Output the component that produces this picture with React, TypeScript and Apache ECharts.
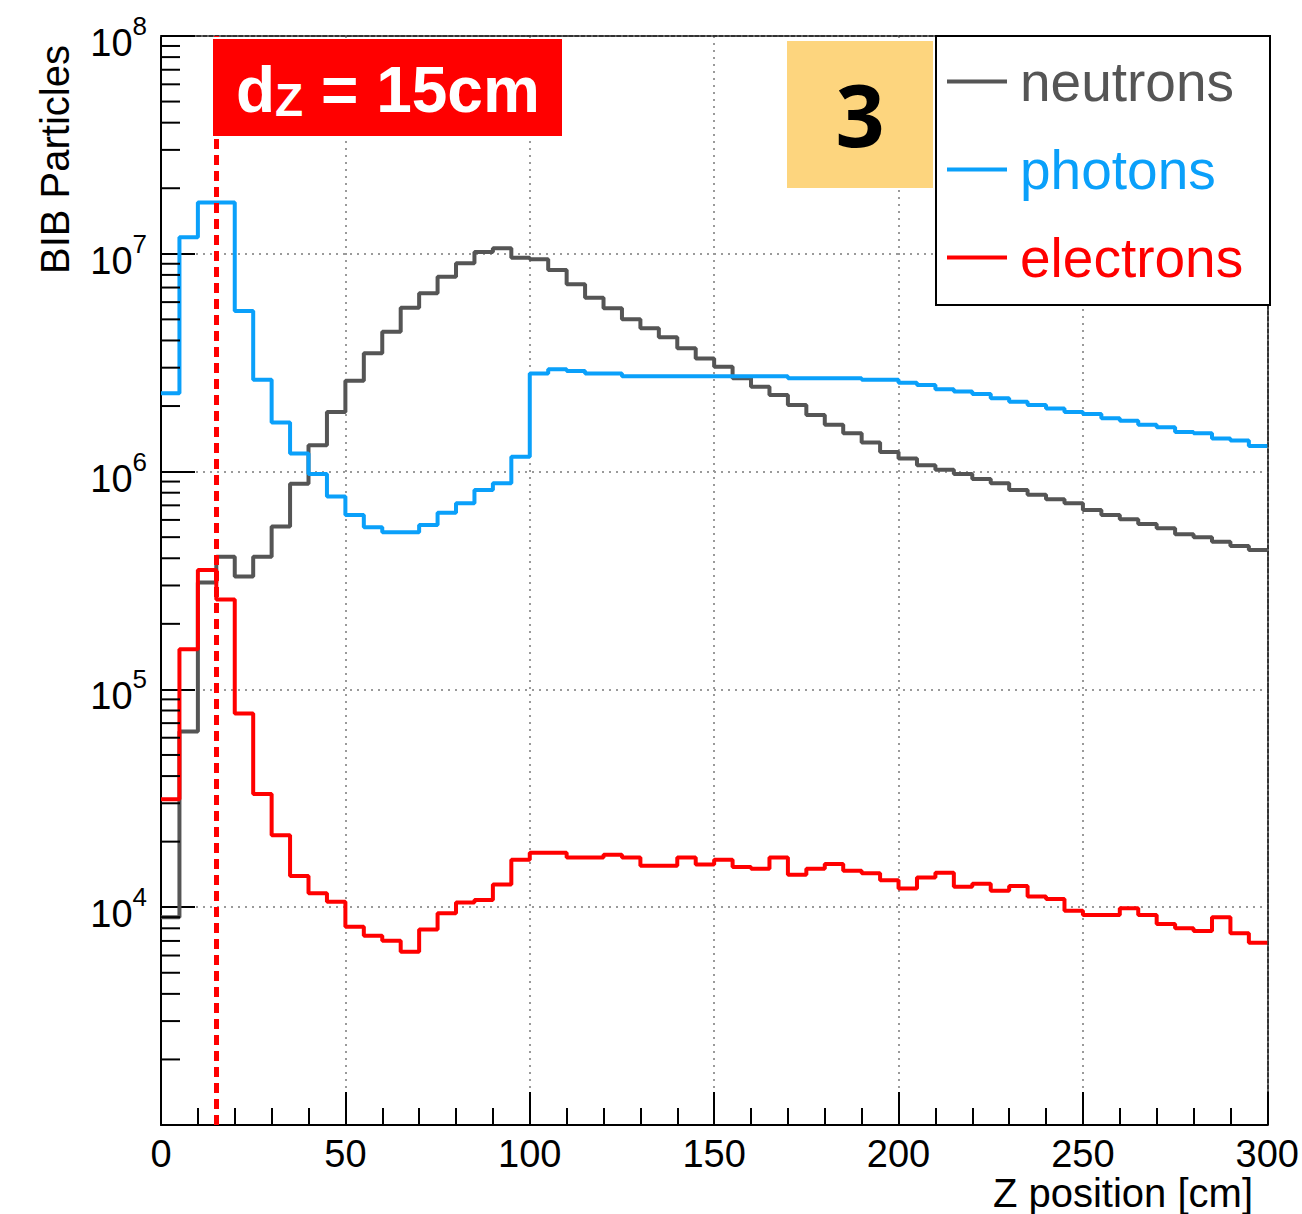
import React, { useEffect, useRef } from "react";
import * as echarts from "echarts";

// ---- data (bins of 5 cm from 0 to 300 cm) ----
const BIN_WIDTH = 5;
const X_MIN = 0;
const X_MAX = 300;

const neutrons = [
  9.0e3, 6.4e4, 3.1e5, 4.06e5, 3.3e5, 4.06e5, 5.6e5, 8.8e5, 1.32e6, 1.88e6,
  2.61e6, 3.49e6, 4.39e6, 5.66e6, 6.59e6, 7.85e6, 9.04e6, 1.02e7, 1.06e7, 9.6e6,
  9.44e6, 8.43e6, 7.25e6, 6.29e6, 5.62e6, 5.0e6, 4.55e6, 4.14e6, 3.68e6, 3.31e6,
  3.03e6, 2.68e6, 2.45e6, 2.25e6, 2.02e6, 1.82e6, 1.64e6, 1.5e6, 1.36e6, 1.23e6,
  1.15e6, 1.07e6, 1.02e6, 9.75e5, 9.25e5, 8.83e5, 8.24e5, 7.82e5, 7.47e5, 7.15e5,
  6.66e5, 6.32e5, 6.04e5, 5.74e5, 5.49e5, 5.16e5, 4.99e5, 4.76e5, 4.55e5, 4.37e5,
];

const photons = [
  2.29e6, 1.19e7, 1.72e7, 1.72e7, 5.46e6, 2.64e6, 1.68e6, 1.21e6, 9.75e5, 7.68e5,
  6.32e5, 5.55e5, 5.26e5, 5.26e5, 5.69e5, 6.47e5, 7.15e5, 8.24e5, 8.83e5, 1.17e6,
  2.82e6, 2.95e6, 2.9e6, 2.82e6, 2.82e6, 2.74e6, 2.74e6, 2.74e6, 2.74e6, 2.74e6,
  2.74e6, 2.74e6, 2.74e6, 2.74e6, 2.68e6, 2.68e6, 2.68e6, 2.68e6, 2.64e6, 2.64e6,
  2.56e6, 2.5e6, 2.39e6, 2.33e6, 2.27e6, 2.17e6, 2.09e6, 2.02e6, 1.95e6, 1.88e6,
  1.84e6, 1.76e6, 1.71e6, 1.64e6, 1.6e6, 1.52e6, 1.5e6, 1.42e6, 1.39e6, 1.31e6,
];

const electrons = [
  3.13e4, 1.53e5, 3.53e5, 2.59e5, 7.76e4, 3.31e4, 2.14e4, 1.39e4, 1.16e4, 1.06e4,
  8.14e3, 7.4e3, 7.02e3, 6.25e3, 7.91e3, 9.37e3, 1.05e4, 1.08e4, 1.27e4, 1.65e4,
  1.78e4, 1.78e4, 1.69e4, 1.69e4, 1.74e4, 1.69e4, 1.55e4, 1.55e4, 1.69e4, 1.57e4,
  1.65e4, 1.53e4, 1.5e4, 1.69e4, 1.41e4, 1.5e4, 1.58e4, 1.47e4, 1.43e4, 1.33e4,
  1.22e4, 1.37e4, 1.44e4, 1.24e4, 1.28e4, 1.19e4, 1.25e4, 1.12e4, 1.09e4, 9.64e3,
  9.21e3, 9.21e3, 9.89e3, 9.21e3, 8.37e3, 8.0e3, 7.78e3, 8.99e3, 7.59e3, 6.87e3,
];

const SERIES_NAMES = ["neutrons", "photons", "electrons"];
const SERIES_COLORS = ["#555555", "#0aa0fa", "#ff0000"];

const Y_MIN = 1e3;
const Y_MAX = 1e8;
const Y_DECADES = [3, 4, 5, 6, 7];
const Y_MINOR_MULTS = [2, 3, 4, 5, 6, 7, 8, 9];

const CUT_Z = 15; // dz = 15 cm marker
const LABEL_TEXT = ["d", "Z", "= 15cm"];
const BADGE_TEXT = "3";
const X_TITLE = "Z position [cm]";
const Y_TITLE = "BIB Particles";

const FONT = "Liberation Sans, Arial, Helvetica, sans-serif";

function toSteps(values: number[]) {
  const pts: [number, number][] = values.map((v, i) => [X_MIN + i * BIN_WIDTH, v]);
  pts.push([X_MAX, values[values.length - 1]]);
  return pts;
}

export default function App() {
  const ref = useRef<HTMLDivElement>(null);

  useEffect(() => {
    if (!ref.current) return;
    const chart = echarts.init(ref.current, null, { renderer: "svg" });

    const minorTicks: [number, number][] = [];
    Y_DECADES.forEach((d) =>
      Y_MINOR_MULTS.forEach((m) => minorTicks.push([X_MIN, m * Math.pow(10, d)]))
    );

    const gridLine = { color: "#9a9a9a", width: 2, type: [2, 5] as number[] };

    const lineSeries = [neutrons, photons, electrons].map((vals, k) => ({
      name: SERIES_NAMES[k],
      type: "line",
      step: "end",
      data: toSteps(vals),
      showSymbol: false,
      symbol: "none",
      lineStyle: { color: SERIES_COLORS[k], width: 4 },
      itemStyle: { color: SERIES_COLORS[k] },
      z: 3 + k,
      silent: true,
    }));

    (lineSeries[2] as any).markLine = {
      silent: true,
      symbol: "none",
      label: { show: false },
      lineStyle: { color: "#ff0000", width: 5, type: [10, 6] },
      data: [{ xAxis: CUT_Z }],
    };

    const option: any = {
      animation: false,
      backgroundColor: "#ffffff",
      grid: { left: 161, right: 32, top: 36, bottom: 89, containLabel: false },
      xAxis: [
        {
          type: "value",
          min: X_MIN,
          max: X_MAX,
          interval: 50,
          position: "bottom",
          axisLine: { show: true, onZero: false, lineStyle: { color: "#000", width: 2 } },
          axisTick: { show: true, inside: true, length: 33, lineStyle: { color: "#000", width: 2 } },
          minorTick: { show: true, splitNumber: 5, length: 17, lineStyle: { color: "#000", width: 2 } },
          axisLabel: { fontSize: 38, color: "#000", fontFamily: FONT, margin: 10 },
          splitLine: { show: true, lineStyle: gridLine },
        },
        {
          type: "value",
          min: X_MIN,
          max: X_MAX,
          interval: 50,
          position: "top",
          axisLine: { show: true, onZero: false, lineStyle: { color: "#333", width: 2, type: [4, 2] } },
          axisTick: { show: false },
          axisLabel: { show: false },
          splitLine: { show: false },
        },
      ],
      yAxis: [
        {
          type: "log",
          logBase: 10,
          min: Y_MIN,
          max: Y_MAX,
          splitNumber: 5,
          position: "left",
          axisLine: { show: true, onZero: false, lineStyle: { color: "#000", width: 2 } },
          axisTick: { show: true, inside: true, length: 34, lineStyle: { color: "#000", width: 2 } },
          axisLabel: {
            margin: 14,
            lineHeight: 52,
            formatter: (v: number) => {
              const e = Math.round(Math.log10(v));
              if (e === 3) return "";
              return "{b|10}{s|" + e + "}";
            },
            rich: {
              b: { fontSize: 38, fontFamily: FONT, color: "#000", verticalAlign: "bottom" },
              s: { fontSize: 26, fontFamily: FONT, color: "#000", verticalAlign: "top", padding: [3, 0, 0, 0] },
            },
          },
          splitLine: { show: true, lineStyle: gridLine },
        },
        {
          type: "log",
          logBase: 10,
          min: Y_MIN,
          max: Y_MAX,
          position: "right",
          axisLine: { show: true, onZero: false, lineStyle: { color: "#333", width: 2, type: [4, 2] } },
          axisTick: { show: false },
          axisLabel: { show: false },
          splitLine: { show: false },
        },
      ],
      legend: {
        orient: "vertical",
        left: 947,
        top: 54,
        padding: 0,
        itemWidth: 60,
        itemHeight: 4,
        itemGap: 33,
        icon: "rect",
        selectedMode: false,
        z: 60,
        textStyle: { fontSize: 55, fontFamily: FONT, padding: [0, 0, 0, 8] },
        data: SERIES_NAMES.map((n, k) => ({ name: n, textStyle: { color: SERIES_COLORS[k] } })),
      },
      graphic: [
        {
          type: "rect",
          z: 50,
          shape: { x: 936, y: 36, width: 334, height: 269 },
          style: { fill: "#ffffff", stroke: "#000", lineWidth: 2 },
        },
        {
          type: "rect",
          z: 50,
          shape: { x: 213, y: 39, width: 349, height: 97 },
          style: { fill: "#ff0000" },
        },
        {
          type: "text",
          z: 51,
          x: 236,
          y: 90,
          style: { text: LABEL_TEXT[0], fill: "#fff", fontSize: 64, fontWeight: "bold", fontFamily: FONT, verticalAlign: "middle" },
        },
        {
          type: "text",
          z: 51,
          x: 275,
          y: 100,
          style: { text: LABEL_TEXT[1], fill: "#fff", fontSize: 46, fontWeight: "bold", fontFamily: FONT, verticalAlign: "middle" },
        },
        {
          type: "text",
          z: 51,
          x: 321,
          y: 90,
          style: { text: LABEL_TEXT[2], fill: "#fff", fontSize: 64, fontWeight: "bold", fontFamily: FONT, verticalAlign: "middle" },
        },
        {
          type: "rect",
          z: 50,
          shape: { x: 787, y: 41, width: 146, height: 147 },
          style: { fill: "#fdd57e" },
        },
        {
          type: "text",
          z: 51,
          x: 860,
          y: 113,
          style: { text: BADGE_TEXT, fill: "#000", fontSize: 86, fontWeight: "bold", fontFamily: "Noto Sans, Open Sans, sans-serif", align: "center", verticalAlign: "middle" },
        },
        {
          type: "text",
          z: 51,
          x: 55,
          y: 45,
          rotation: Math.PI / 2,
          style: { text: Y_TITLE, fill: "#000", fontSize: 40, fontFamily: FONT, align: "right", verticalAlign: "middle" },
        },
        {
          type: "text",
          z: 51,
          x: 1253,
          y: 1193,
          style: { text: X_TITLE, fill: "#000", fontSize: 40, fontFamily: FONT, align: "right", verticalAlign: "middle" },
        },
      ],
      series: [
        ...lineSeries,
        {
          type: "custom",
          name: "yMinorTicks",
          silent: true,
          clip: false,
          z: 8,
          data: minorTicks,
          renderItem: (params: any, api: any) => {
            const p = api.coord([api.value(0), api.value(1)]);
            return {
              type: "line",
              shape: { x1: p[0], y1: p[1], x2: p[0] + 19, y2: p[1] },
              style: { stroke: "#000", lineWidth: 2 },
            };
          },
        },
      ],
    };

    chart.setOption(option);
    return () => chart.dispose();
  }, []);

  return (
    <div
      ref={ref}
      style={{ position: "absolute", left: 0, top: 0, width: 1302, height: 1214, background: "#fff" }}
    />
  );
}
